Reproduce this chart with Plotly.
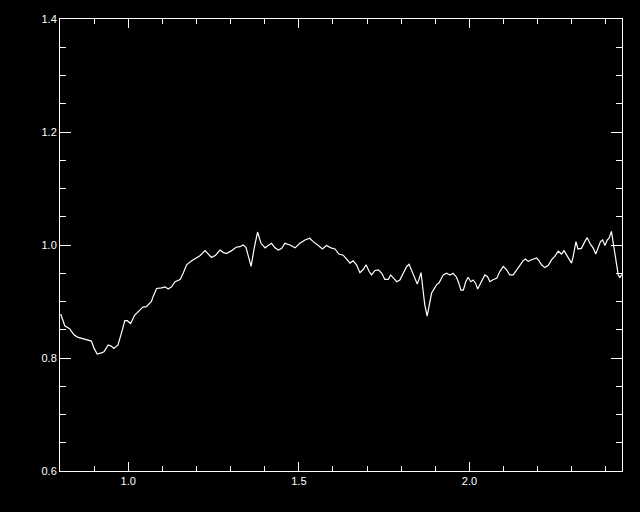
import plotly.graph_objects as go

wavelength = [0.802, 0.814, 0.828, 0.841, 0.851, 0.862, 0.877, 0.892, 0.900, 0.909,
              0.921, 0.929, 0.941, 0.950, 0.958, 0.970, 0.980, 0.990, 0.997, 1.007,
              1.019, 1.029, 1.043, 1.053, 1.068, 1.073, 1.083, 1.098, 1.108, 1.117,
              1.127, 1.137, 1.152, 1.161, 1.171, 1.186, 1.201, 1.210, 1.225, 1.235,
              1.244, 1.256, 1.269, 1.278, 1.288, 1.303, 1.316, 1.327, 1.337, 1.345,
              1.350, 1.360, 1.369, 1.379, 1.389, 1.401, 1.410, 1.420, 1.430, 1.440,
              1.450, 1.459, 1.474, 1.489, 1.503, 1.518, 1.532, 1.542, 1.557, 1.569,
              1.581, 1.594, 1.606, 1.617, 1.630, 1.640, 1.650, 1.659, 1.669, 1.679,
              1.689, 1.697, 1.706, 1.713, 1.723, 1.733, 1.743, 1.752, 1.762, 1.769,
              1.777, 1.787, 1.796, 1.806, 1.816, 1.823, 1.830, 1.840, 1.847, 1.853,
              1.858, 1.864, 1.869, 1.876, 1.882, 1.889, 1.896, 1.904, 1.911, 1.923,
              1.933, 1.943, 1.952, 1.962, 1.969, 1.975, 1.982, 1.989, 1.996, 2.004,
              2.011, 2.018, 2.024, 2.031, 2.037, 2.045, 2.053, 2.060, 2.070, 2.080,
              2.089, 2.099, 2.109, 2.118, 2.128, 2.138, 2.148, 2.157, 2.164, 2.172,
              2.182, 2.197, 2.204, 2.211, 2.221, 2.231, 2.241, 2.250, 2.260, 2.270,
              2.277, 2.285, 2.294, 2.299, 2.304, 2.312, 2.318, 2.328, 2.338, 2.345,
              2.353, 2.363, 2.370, 2.377, 2.384, 2.390, 2.397, 2.404, 2.409, 2.416,
              2.421, 2.426, 2.431, 2.436, 2.441, 2.446]

flux = [0.878, 0.857, 0.852, 0.841, 0.837, 0.835, 0.832, 0.830, 0.817, 0.807,
        0.809, 0.811, 0.823, 0.821, 0.817, 0.823, 0.844, 0.866, 0.866, 0.861,
        0.876, 0.882, 0.890, 0.891, 0.900, 0.909, 0.923, 0.924, 0.926, 0.922,
        0.926, 0.935, 0.939, 0.950, 0.965, 0.972, 0.977, 0.981, 0.990, 0.984,
        0.978, 0.982, 0.991, 0.987, 0.985, 0.990, 0.996, 0.997, 1.000, 0.996,
        0.985, 0.962, 0.994, 1.023, 1.003, 0.995, 0.999, 1.003, 0.995, 0.991,
        0.994, 1.003, 1.000, 0.995, 1.003, 1.009, 1.012, 1.006, 0.999, 0.993,
        0.999, 0.995, 0.993, 0.984, 0.982, 0.974, 0.968, 0.972, 0.965, 0.951,
        0.957, 0.965, 0.953, 0.947, 0.955, 0.956, 0.950, 0.939, 0.939, 0.947,
        0.941, 0.935, 0.938, 0.950, 0.962, 0.966, 0.956, 0.941, 0.931, 0.941,
        0.951, 0.920, 0.894, 0.874, 0.891, 0.915, 0.922, 0.930, 0.933, 0.947,
        0.950, 0.947, 0.950, 0.943, 0.932, 0.920, 0.920, 0.935, 0.943, 0.935,
        0.938, 0.932, 0.922, 0.930, 0.939, 0.947, 0.944, 0.935, 0.939, 0.941,
        0.953, 0.962, 0.956, 0.947, 0.947, 0.956, 0.965, 0.972, 0.975, 0.971,
        0.974, 0.977, 0.972, 0.965, 0.960, 0.964, 0.974, 0.980, 0.989, 0.984,
        0.990, 0.982, 0.971, 0.968, 0.980, 1.006, 0.993, 0.994, 1.006, 1.013,
        1.003, 0.994, 0.984, 0.994, 1.006, 1.009, 0.999, 1.009, 1.012, 1.024,
        1.006, 0.989, 0.965, 0.947, 0.942, 0.948]

x_ticks = [1.0, 1.5, 2.0]
x_tick_labels = ["1.0", "1.5", "2.0"]
y_ticks = [0.6, 0.8, 1.0, 1.2, 1.4]
y_tick_labels = ["0.6", "0.8", "1.0", "1.2", "1.4"]

fig = go.Figure()
fig.add_trace(go.Scatter(x=wavelength, y=flux, mode="lines",
                         line=dict(color="white", width=1.2),
                         showlegend=False, hoverinfo="skip"))

font = dict(family="Liberation Sans, Arial, sans-serif", size=11, color="white")

fig.update_layout(
    width=640, height=512,
    paper_bgcolor="black", plot_bgcolor="black",
    margin=dict(l=60, r=18, t=19, b=41),
    font=font,
    xaxis=dict(range=[0.8, 2.447], showgrid=False, zeroline=False,
               showline=True, linecolor="white", linewidth=1, mirror="allticks",
               ticks="inside", ticklen=9, tickwidth=1, tickcolor="white",
               tickvals=x_ticks, ticktext=x_tick_labels, tickfont=font,
               minor=dict(dtick=0.1, tick0=0.8, ticks="inside", ticklen=5,
                          tickcolor="white", tickwidth=1, showgrid=False)),
    yaxis=dict(range=[0.6, 1.4], showgrid=False, zeroline=False,
               showline=True, linecolor="white", linewidth=1, mirror="allticks",
               ticks="inside", ticklen=11, tickwidth=1, tickcolor="white",
               tickvals=y_ticks, ticktext=y_tick_labels, tickfont=font,
               minor=dict(dtick=0.05, tick0=0.6, ticks="inside", ticklen=6,
                          tickcolor="white", tickwidth=1, showgrid=False)),
)

fig.write_html(
    "out.html",
    config={"displayModeBar": False},
    post_script="document.body.style.margin='0';document.body.style.background='black';",
)
